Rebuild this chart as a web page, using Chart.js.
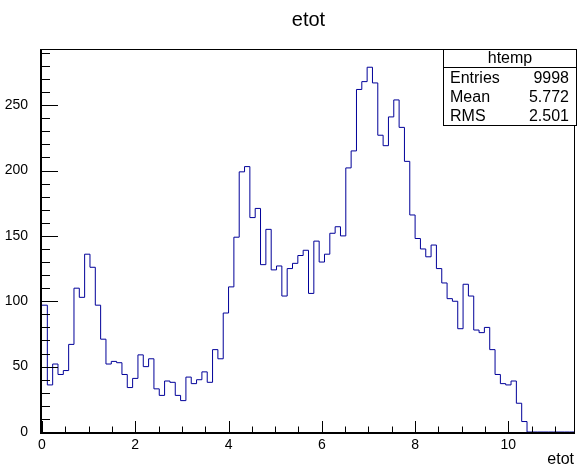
<!DOCTYPE html>
<html lang="en">
<head>
<meta charset="UTF-8">
<title>etot</title>
<script src="https://cdn.jsdelivr.net/npm/chart.js"></script>
<style>
  html, body { margin: 0; padding: 0; background: #fff; }
  canvas { display: block; }
</style>
</head>
<body>
<canvas id="myChart" width="579" height="470"></canvas>
<script>
// htemp: 100 bins from 0 to 11.43
const nBins = 100;
const xMin = 0;
const xMax = 11.43;
const yMax = 292.95;

// bin contents
const counts = [
   97,  36,  52,  44,  47,  67, 110, 103, 136, 126,
   97,  71,  52,  54,  53,  44,  34,  41,  59,  50,
   56,  33,  28,  39,  38,  28,  24,  42,  37,  40,
   46,  38,  63,  56,  91, 111, 149, 199, 203, 164,
  171, 128, 155, 124, 127, 104, 125, 129, 135, 139,
  106, 146, 130, 136, 152, 157, 150, 202, 215, 262,
  268, 279, 267, 227, 219, 241, 254, 233, 207, 166,
  148, 140, 134, 143, 125, 114, 102, 100,  79, 113,
  104,  78,  76,  80,  63,  44,  37,  36,  39,  22,
    8,   0,   0,   0,   0,   0,   0,   0,   0,   0
];

const xTicks = [0, 2, 4, 6, 8, 10];
const yTicks = [0, 50, 100, 150, 200, 250];
const xMinorStep = 0.5;
const yMinorStep = 10;

const title = 'etot';
const xTitle = 'etot';
const histName = 'htemp';
const statsLabels = ['Entries', 'Mean', 'RMS'];
const statsValues = ['9998', '5.772', '2.501'];

const FONT = 'Liberation Sans, Arial, sans-serif';
Chart.defaults.font.family = FONT;

// left bin edges + closing point, drawn as a step line
const binW = (xMax - xMin) / nBins;
const points = counts.map((c, i) => ({ x: xMin + i * binW, y: c }));
points.push({ x: xMax, y: 0 });

// ROOT-like frame, inner ticks, title and stats box
const rootFrame = {
    id: 'rootFrame',
    afterDraw(chart) {
        const ctx = chart.ctx;
        const a = chart.chartArea;
        const xs = chart.scales.x;
        const ys = chart.scales.y;
        ctx.save();
        ctx.strokeStyle = '#000';
        ctx.lineWidth = 1;
        ctx.strokeRect(a.left - 0.5, a.top + 0.5, a.right - a.left, a.bottom - a.top);
        ctx.lineWidth = 2;
        ctx.beginPath();
        ctx.moveTo(a.left - 1, a.top);
        ctx.lineTo(a.left - 1, a.bottom + 1);
        ctx.lineTo(a.right, a.bottom + 1);
        ctx.stroke();

        // ticks
        ctx.lineWidth = 1;
        ctx.beginPath();
        for (let v = 0; v <= yMax; v += yMinorStep) {
            const py = Math.round(ys.getPixelForValue(v)) + 0.5;
            const len = yTicks.includes(v) ? 16 : 8;
            ctx.moveTo(a.left, py);
            ctx.lineTo(a.left + len, py);
        }
        for (let v = 0; v <= xMax; v += xMinorStep) {
            const px = Math.round(xs.getPixelForValue(v)) + 0.5;
            const len = xTicks.includes(v) ? 11 : 5.5;
            ctx.moveTo(px, a.bottom);
            ctx.lineTo(px, a.bottom - len);
        }
        ctx.stroke();

        // titles
        ctx.fillStyle = '#000';
        ctx.font = '20px ' + FONT;
        ctx.textAlign = 'center';
        ctx.textBaseline = 'alphabetic';
        ctx.fillText(title, (a.left + a.right) / 2, 26);
        ctx.font = '16px ' + FONT;
        ctx.textAlign = 'right';
        ctx.fillText(xTitle, a.right - 1, 464);

        // stats box
        const bx = 443.5, by = 49.5, bw = 133, bh = 76;
        ctx.fillStyle = '#fff';
        ctx.fillRect(bx, by, bw, bh);
        ctx.strokeStyle = '#000';
        ctx.strokeRect(bx, by, bw, bh);
        ctx.beginPath();
        ctx.moveTo(bx, 67.5);
        ctx.lineTo(bx + bw, 67.5);
        ctx.stroke();
        ctx.fillStyle = '#000';
        ctx.font = '16px ' + FONT;
        ctx.textBaseline = 'middle';
        ctx.textAlign = 'center';
        ctx.fillText(histName, bx + bw / 2, 58.5);
        statsLabels.forEach((lab, i) => {
            const ty = 78.5 + i * 19;
            ctx.textAlign = 'left';
            ctx.fillText(lab, 450, ty);
            ctx.textAlign = 'right';
            ctx.fillText(statsValues[i], 569, ty);
        });
        ctx.restore();
    }
};

const ctx = document.getElementById('myChart').getContext('2d');
new Chart(ctx, {
    type: 'line',
    data: {
        datasets: [{
            label: histName,
            data: points,
            stepped: 'before',
            borderColor: '#000099',
            borderWidth: 1,
            pointRadius: 0,
            fill: false
        }]
    },
    options: {
        responsive: false,
        animation: false,
        layout: { padding: { top: 49, right: 4, left: 0, bottom: 0 } },
        plugins: {
            legend: { display: false },
            tooltip: { enabled: false }
        },
        scales: {
            x: {
                type: 'linear',
                min: xMin,
                max: xMax,
                grid: { display: false },
                border: { display: false },
                afterBuildTicks: s => { s.ticks = xTicks.map(v => ({ value: v })); },
                afterFit: s => { s.height = 38; },
                ticks: {
                    color: '#000',
                    font: { size: 14 },
                    padding: -3,
                    maxRotation: 0,
                    autoSkip: false,
                    callback: v => String(v)
                }
            },
            y: {
                type: 'linear',
                min: 0,
                max: yMax,
                grid: { display: false },
                border: { display: false },
                afterBuildTicks: s => { s.ticks = yTicks.map(v => ({ value: v })); },
                afterFit: s => { s.width = 42; },
                ticks: {
                    color: '#000',
                    font: { size: 14 },
                    padding: 6,
                    autoSkip: false,
                    callback: v => String(v)
                }
            }
        }
    },
    plugins: [rootFrame]
});
</script>
</body>
</html>
